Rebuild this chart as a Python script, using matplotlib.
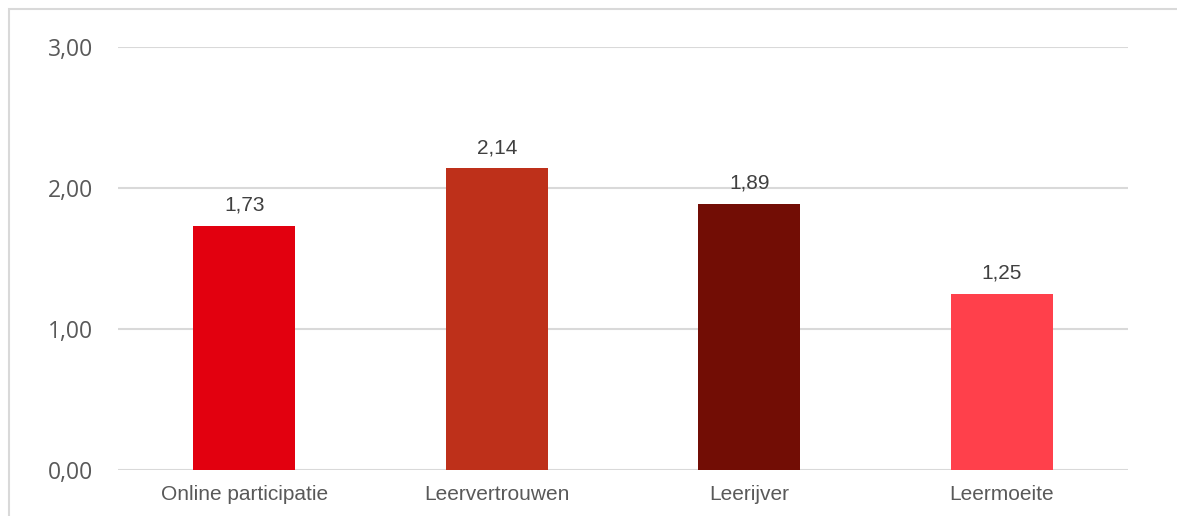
import matplotlib.pyplot as plt
from matplotlib.patches import Rectangle

categories = ['Online participatie', 'Leervertrouwen', 'Leerijver', 'Leermoeite']
values = [1.73, 2.14, 1.89, 1.25]
colors = ['#E2000F', '#BE301A', '#720D05', '#FF404B']
yticks = [0, 1, 2, 3]

fig = plt.figure(figsize=(11.77, 5.16), dpi=100)
# chart area border (cut off at right and bottom like the screenshot)
fig.patches.append(Rectangle((9 / 1177, -0.1), 1.2, 1 - 9 / 516 + 0.1,
                             transform=fig.transFigure, fill=False,
                             edgecolor='#D9D9D9', linewidth=1.5))

ax = fig.add_axes([118 / 1177, 1 - 470 / 516, 1010 / 1177, 423 / 516])
x = range(len(categories))
ax.bar(x, values, width=0.404, color=colors, zorder=3)

for xi, v in zip(x, values):
    ax.annotate(f'{v:.2f}'.replace('.', ','), (xi, v), xytext=(0, 8),
                textcoords='offset points', ha='center', va='bottom',
                fontsize=15, color='#404040', family='Liberation Sans')

ax.set_xlim(-0.5, len(categories) - 0.5)
ax.set_ylim(0, 3)
ax.set_yticks(yticks)
ax.set_yticklabels([f'{t:.2f}'.replace('.', ',') for t in yticks],
                   family='Open Sans', fontsize=16.5, color='#595959')
ax.set_xticks(list(x))
ax.set_xticklabels(categories, family='Liberation Sans', fontsize=15, color='#595959')
ax.tick_params(axis='both', length=0)
ax.tick_params(axis='y', pad=18)
ax.tick_params(axis='x', pad=11)
ax.grid(axis='y', color='#D9D9D9', linewidth=1.5, zorder=0)
for s in ax.spines.values():
    s.set_visible(False)

fig.savefig('out.png', dpi=100)
